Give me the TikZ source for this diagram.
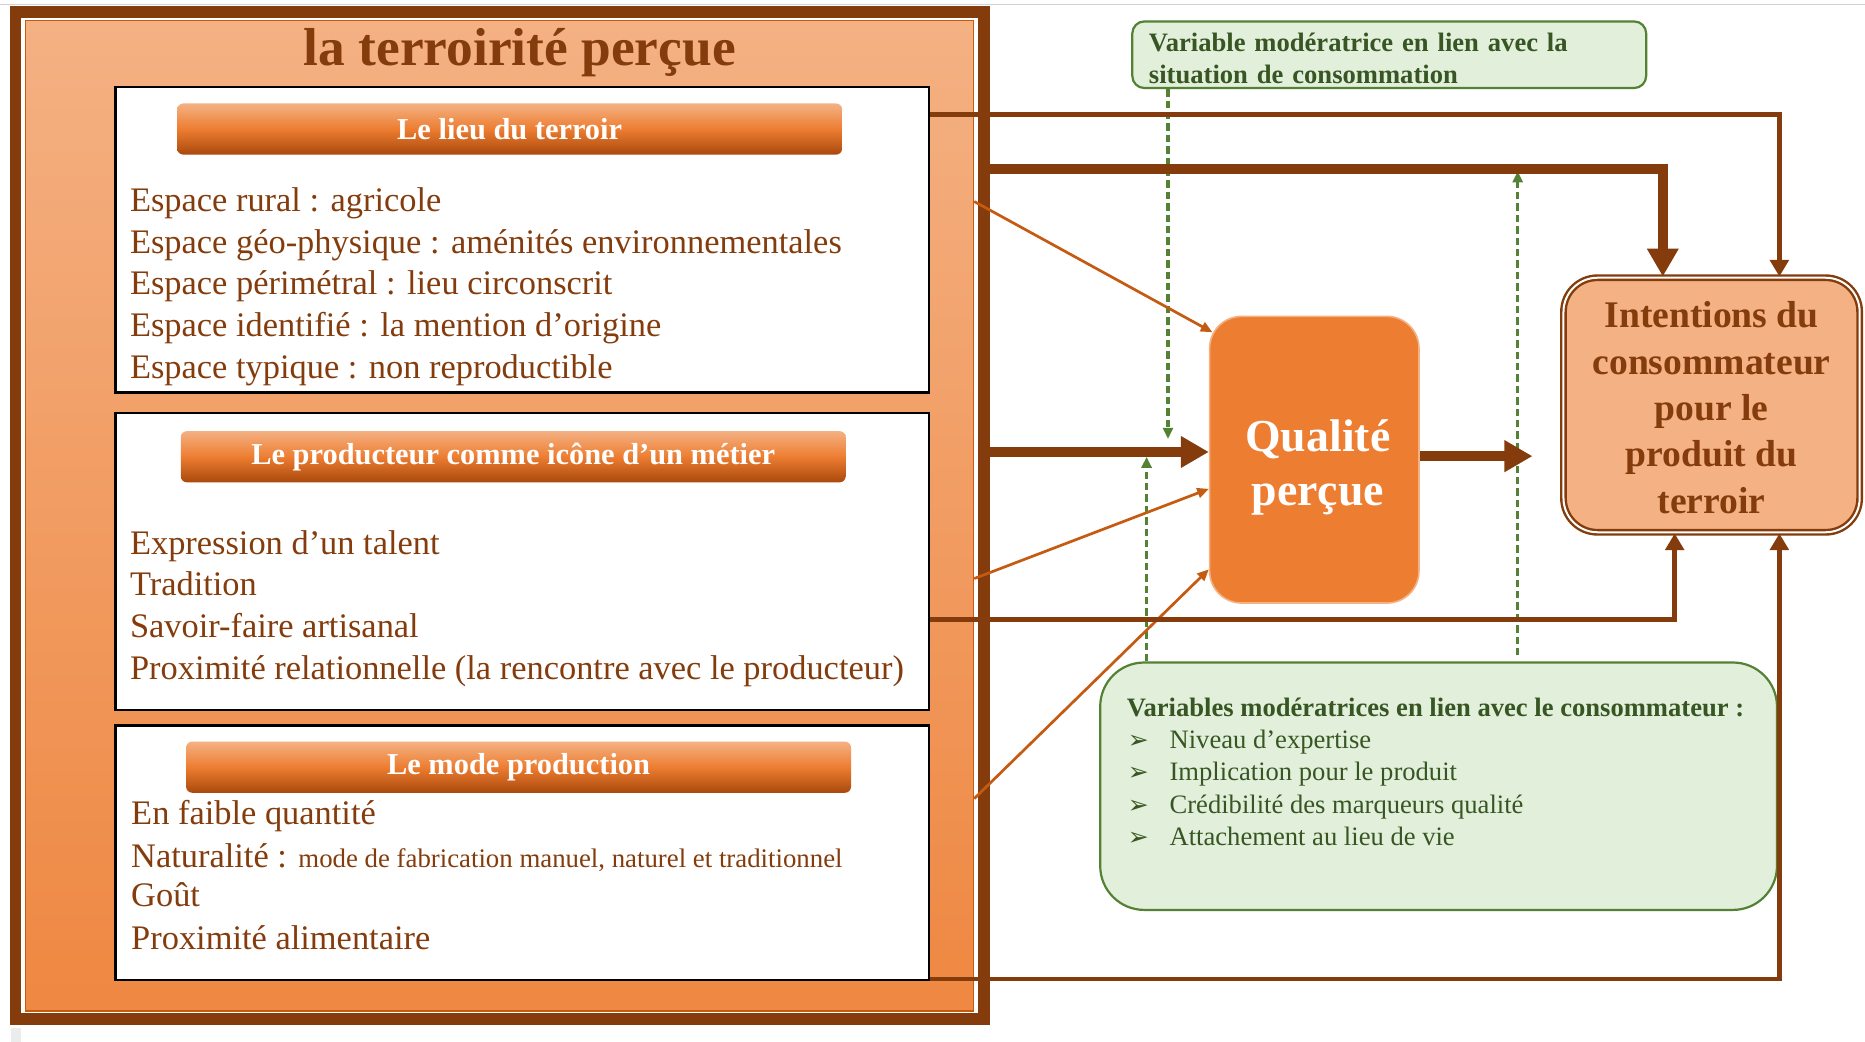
\documentclass[tikz,border=0pt]{standalone}
\usepackage{fontspec}
\setmainfont{Liberation Serif}
\newfontfamily\dejavu{DejaVu Sans}
\usetikzlibrary{arrows.meta,calc}
\definecolor{brn}{HTML}{843C0C}
\definecolor{orng}{HTML}{ED7D31}
\definecolor{lor}{HTML}{F4B183}
\definecolor{dor}{HTML}{C55A11}
\definecolor{bdor}{HTML}{A9490C}
\definecolor{gfill}{HTML}{E2EFDA}
\definecolor{gline}{HTML}{548235}
\definecolor{gtext}{HTML}{375623}
\def\dpx{0.5946pt}
\newcommand\fsz[2]{\fontsize{#1}{#2}\selectfont}
\begin{document}
\begin{tikzpicture}[x=0.5946pt,y=-0.5946pt,
  framebox/.style={draw=brn, line width=10*\dpx, fill=white, inner sep=0, minimum width=814*\dpx, minimum height=847*\dpx},
  innerbox/.style={draw=dor, line width=0.7pt, top color=lor, bottom color=orng!92!white, inner sep=0, minimum width=797*\dpx, minimum height=833*\dpx},
  wbox/.style={draw=black, line width=1.2pt, fill=white, inner sep=0, minimum width=684*\dpx},
  hbar/.style={rounded corners=3pt, top color=lor, bottom color=bdor, middle color=orng, inner sep=0, minimum width=559*\dpx, minimum height=43*\dpx, text=white, font=\fsz{15.2}{18}\bfseries},
  body/.style={anchor=base west, inner sep=0, text=brn, font=\fsz{17.2}{20.8}},
  qbox/.style={draw=lor, line width=0.8pt, fill=orng, rounded corners=16pt, inner sep=0, minimum width=176*\dpx, minimum height=241*\dpx, text=white, align=center, font=\fsz{22.9}{26.8}\bfseries},
  ibox/.style={draw=brn, double=white, double distance=1pt, line width=1.2pt, fill=lor, rounded corners=17pt, inner sep=0, minimum width=249*\dpx, minimum height=214*\dpx, text=brn, align=center, font=\fsz{18.8}{23.2}\bfseries},
  gbox/.style={draw=gline, line width=1.1pt, fill=gfill},
  gtxt/.style={anchor=base west, inner sep=0, text=gtext, font=\fsz{13.3}{16}},
  bul/.style={anchor=base west, inner sep=0, text=gtext, font=\dejavu\fsz{12.5}{14}},
  thinA/.style={draw=brn, line width=2.4pt, -{Triangle[length=8.3pt,width=9.2pt]}},
  thickA/.style={draw=brn, line width=5pt, -{Triangle[length=14pt,width=15pt]}},
  oA/.style={draw=dor, line width=1.35pt, -{Triangle[length=5.8pt,width=5pt]}},
  gA/.style={draw=gline, line width=1.6pt, dash pattern=on 3.7pt off 2pt, -{Triangle[length=5.5pt,width=5pt]}},
]
\useasboundingbox (0,0) rectangle (1568,876);
\fill[white] (0,0) rectangle (1568,876);
\draw[gray!35, line width=0.5pt] (0,4) -- (1568,4);
\fill[gray!15] (9,864) rectangle (18,876);

% left frame
\node[framebox] (frame) at (420,433.5) {};
\node[innerbox] (inner) at (420,433.5) {};
\node[anchor=base, inner sep=0, text=brn, font=\fsz{26.7}{30}\bfseries] (title) at (437,55) {la terroirité perçue};

% box 1
\node[wbox, minimum height=257*\dpx] (box1) at (439,201.5) {};
\node[hbar] (bar1) at (428.5,108.5) {Le lieu du terroir};
\node[body] (l11) at (109,178) {Espace rural : agricole};
\node[body] (l12) at (109,213) {Espace géo-physique : aménités environnementales};
\node[body] (l13) at (109,248) {Espace périmétral : lieu circonscrit};
\node[body] (l14) at (109,283) {Espace identifié : la mention d’origine};
\node[body] (l15) at (109,318) {Espace typique : non reproductible};

% box 2
\node[wbox, minimum height=250*\dpx] (box2) at (439,472) {};
\node[hbar] (bar2) at (431.5,384) {Le producteur comme icône d’un métier};
\node[body] (l21) at (109,466) {Expression d’un talent};
\node[body] (l22) at (109,501) {Tradition};
\node[body] (l23) at (109,536) {Savoir-faire artisanal};
\node[body] (l24) at (109,571) {Proximité relationnelle (la rencontre avec le producteur)};

% box 3
\node[wbox, minimum height=214*\dpx] (box3) at (439,717) {};
\node[hbar] (bar3) at (436,645) {Le mode production};
\node[body] (l31) at (110,693) {En faible quantité};
\node[body] (l32) at (110,729) {Naturalité : {\fsz{13.4}{16}mode de fabrication manuel, naturel et traditionnel}};
\node[body] (l33) at (110,762) {Goût};
\node[body] (l34) at (110,798) {Proximité alimentaire};

% right side
\node[qbox] (qual) at (1105,386.5) {};
\node[text=white, align=center, inner sep=0, font=\fsz{22.9}{26.8}\bfseries] (qualt) at (1108,393) {Qualité\\perçue};
\node[ibox] (intent) at (1439,340.5) {\rule{0pt}{15.6pt}Intentions du\\consommateur\\pour le\\produit du\\terroir};

\node[gbox, rounded corners=6pt, minimum width=432*\dpx, minimum height=56*\dpx, inner xsep=14*\dpx, inner ysep=0, text width=404*\dpx, align=left, text=gtext, font=\fsz{13.3}{16}\bfseries] (gtop) at (1168,46) {\rule{0pt}{13pt}Variable modératrice en lien avec la\\situation de consommation};

\node[gbox, rounded corners=22pt, minimum width=569*\dpx, minimum height=208*\dpx] (gbot) at (1209.5,661) {};
\node[gtxt, font=\fsz{13.3}{16}\bfseries] (gb0) at (947,602) {Variables modératrices en lien avec le consommateur :};
\node[bul] (bu1) at (948,629) {➢};
\node[bul] (bu2) at (948,656) {➢};
\node[bul] (bu3) at (948,684) {➢};
\node[bul] (bu4) at (948,711) {➢};
\node[gtxt] (gi1) at (983,629) {Niveau d’expertise};
\node[gtxt] (gi2) at (983,656) {Implication pour le produit};
\node[gtxt] (gi3) at (983,684) {Crédibilité des marqueurs qualité};
\node[gtxt] (gi4) at (983,711) {Attachement au lieu de vie};

% green dashed connectors
\coordinate (ga1) at ($(gtop.south)+(-186,0)$);
\coordinate (ga2) at ($(gtop.south)+(-186,294)$);
\draw[gA] (ga1) -- (ga2);
\coordinate (gb1) at ($(gbot.north)+(-245.5,0)$);
\coordinate (gb2) at ($(gbot.north)+(-245.5,-172)$);
\draw[gA] (gb1) -- (gb2);
\coordinate (gc1) at ($(gbot.north)+(66.5,-5)$);
\coordinate (gc2) at ($(gbot.north)+(66.5,-412)$);
\draw[gA] (gc1) -- (gc2);

% orange connectors
\coordinate (o1) at ($(inner.north east)+(0,153)$);
\coordinate (o2) at ($(inner.north east)+(0,470)$);
\coordinate (o3) at ($(inner.north east)+(0,655)$);
\draw[oA] (o1) -- ($(qual.north west)+(3,14)$);
\draw[oA] (o2) -- ($(qual.west)+(0,24.5)$);
\draw[oA] (o3) -- ($(qual.south west)+(0,-29)$);

% brown connectors
\coordinate (s1) at ($(box1.north east)+(0,24)$);
\coordinate (e1) at ($(intent.north)+(57,0)$);
\draw[thinA] (s1) -| (e1);
\coordinate (s2) at ($(frame.north east)+(0,137)$);
\coordinate (e2) at ($(intent.north)+(-41,0)$);
\draw[thickA] (s2) -| (e2);
\coordinate (s3) at ($(frame.north east)+(0,375)$);
\draw[thickA] (s3) -- (s3 -| qual.west);
\coordinate (s4) at ($(qual.east)+(0,-3)$);
\draw[thickA, shorten >=14.9pt] (s4) -- (s4 -| intent.west);
\coordinate (s6) at ($(box2.east)+(0,49)$);
\coordinate (e6) at ($(intent.south)+(-31,0)$);
\draw[thinA] (s6) -| (e6);
\coordinate (s7) at ($(box3.south east)+(0,-2)$);
\coordinate (e7) at ($(intent.south)+(57,0)$);
\draw[thinA] (s7) -| (e7);
\end{tikzpicture}
\end{document}
